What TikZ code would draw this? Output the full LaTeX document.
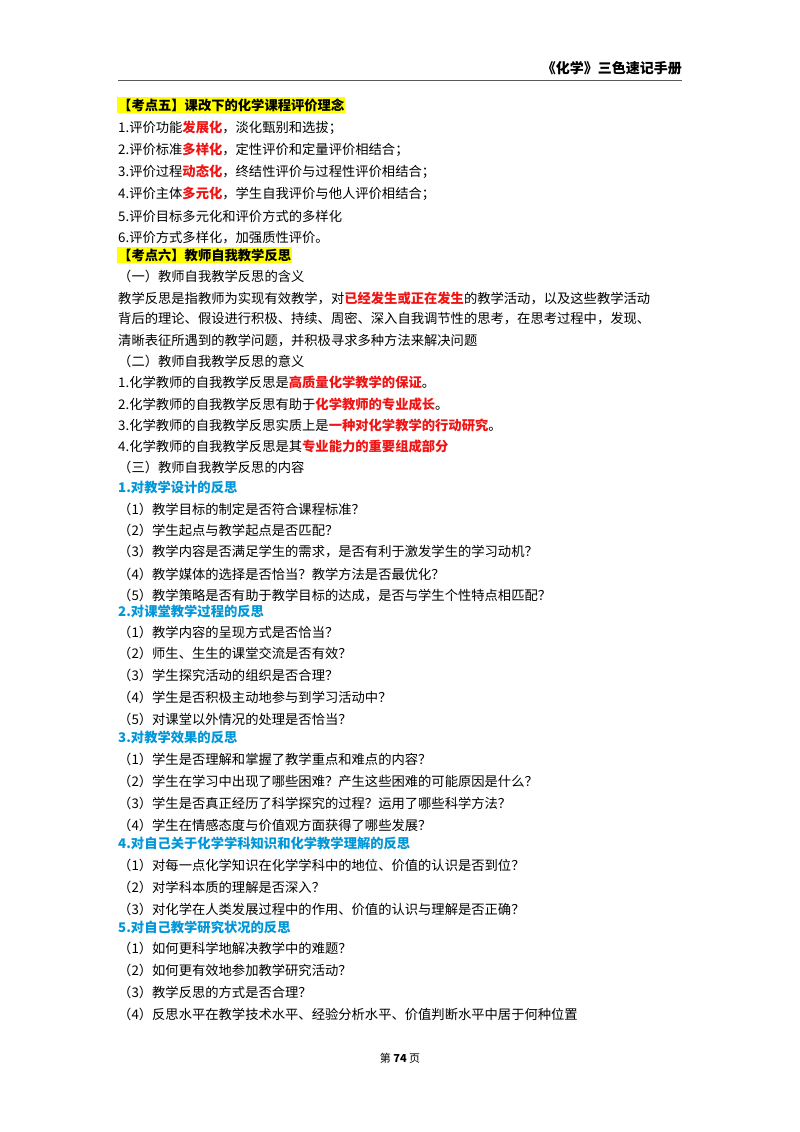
\documentclass[tikz,border=0pt]{standalone}
\usepackage{fontspec}
\setmainfont{Noto Sans CJK SC}
\usetikzlibrary{positioning}
\definecolor{hired}{RGB}{240,20,20}
\definecolor{hiblue}{RGB}{0,150,215}
\definecolor{hiyel}{RGB}{255,255,0}
\newcommand{\hl}[1]{\textcolor{hired}{\bfseries #1}}
\tikzset{
  line/.style={anchor=west,inner sep=0pt,font=\fontsize{13.3}{15}\selectfont},
  para/.style={line,text width=564pt,align=justify},
  kaodian/.style={line,fill=hiyel,inner ysep=2pt,inner xsep=1pt,font=\fontsize{13.3}{15}\selectfont\bfseries},
  sub/.style={line,text=hiblue,font=\fontsize{13.3}{15}\selectfont\bfseries},
}
\begin{document}
\begin{tikzpicture}[x=1pt,y=-1pt]
\useasboundingbox (0,0) rectangle (800,1132);
\node[anchor=east,inner sep=0pt,font=\fontsize{14}{15}\selectfont\bfseries] (head) at (682,68) {《化学》三色速记手册};
\draw[line width=0.8pt,gray!70!black] (118,80) -- (682,80);
% kaodian 5
\node[kaodian] (k5) at (117,105) {【考点五】课改下的化学课程评价理念};
\node[line] (a1) at (118,128) {1.评价功能\hl{发展化}，淡化甄别和选拔；};
\node[line] (a2) at (118,150) {2.评价标准\hl{多样化}，定性评价和定量评价相结合；};
\node[line] (a3) at (118,172) {3.评价过程\hl{动态化}，终结性评价与过程性评价相结合；};
\node[line] (a4) at (118,194) {4.评价主体\hl{多元化}，学生自我评价与他人评价相结合；};
\node[line] (a5) at (118,216) {5.评价目标多元化和评价方式的多样化};
\node[line] (a6) at (118,238) {6.评价方式多样化，加强质性评价。};
% kaodian 6
\node[kaodian] (k6) at (117,255) {【考点六】教师自我教学反思};
\node[line] (s1) at (118,276) {（一）教师自我教学反思的含义};
\node[para] (p1) at (118,298) {教学反思是指教师为实现有效教学，对\hl{已经发生或正在发生}的教学活动，以及这些教学活动\hfill\null};
\node[para] (p2) at (118,319) {背后的理论、假设进行积极、持续、周密、深入自我调节性的思考，在思考过程中，发现、\hfill\null};
\node[line] (p3) at (118,341) {清晰表征所遇到的教学问题，并积极寻求多种方法来解决问题};
\node[line] (s2) at (118,361) {（二）教师自我教学反思的意义};
\node[line] (b1) at (118,382) {1.化学教师的自我教学反思是\hl{高质量化学教学的保证}。};
\node[line] (b2) at (118,404) {2.化学教师的自我教学反思有助于\hl{化学教师的专业成长}。};
\node[line] (b3) at (118,425) {3.化学教师的自我教学反思实质上是\hl{一种对化学教学的行动研究}。};
\node[line] (b4) at (118,446) {4.化学教师的自我教学反思是其\hl{专业能力的重要组成部分}};
\node[line] (s3) at (118,467) {（三）教师自我教学反思的内容};
% content 1
\node[sub] (c1) at (118,487) {1.对教学设计的反思};
\node[line] (c11) at (118,509) {（1）教学目标的制定是否符合课程标准？};
\node[line] (c12) at (118,530) {（2）学生起点与教学起点是否匹配？};
\node[line] (c13) at (118,552) {（3）教学内容是否满足学生的需求，是否有利于激发学生的学习动机？};
\node[line] (c14) at (118,574) {（4）教学媒体的选择是否恰当？教学方法是否最优化？};
\node[line] (c15) at (118,596) {（5）教学策略是否有助于教学目标的达成，是否与学生个性特点相匹配？};
% content 2
\node[sub] (c2) at (118,611) {2.对课堂教学过程的反思};
\node[line] (c21) at (118,632) {（1）教学内容的呈现方式是否恰当？};
\node[line] (c22) at (118,653) {（2）师生、生生的课堂交流是否有效？};
\node[line] (c23) at (118,675) {（3）学生探究活动的组织是否合理？};
\node[line] (c24) at (118,697) {（4）学生是否积极主动地参与到学习活动中？};
\node[line] (c25) at (118,719) {（5）对课堂以外情况的处理是否恰当？};
% content 3
\node[sub] (c3) at (118,737) {3.对教学效果的反思};
\node[line] (c31) at (118,759) {（1）学生是否理解和掌握了教学重点和难点的内容？};
\node[line] (c32) at (118,781) {（2）学生在学习中出现了哪些困难？产生这些困难的可能原因是什么？};
\node[line] (c33) at (118,803) {（3）学生是否真正经历了科学探究的过程？运用了哪些科学方法？};
\node[line] (c34) at (118,825) {（4）学生在情感态度与价值观方面获得了哪些发展？};
% content 4
\node[sub] (c4) at (118,843) {4.对自己关于化学学科知识和化学教学理解的反思};
\node[line] (c41) at (118,865) {（1）对每一点化学知识在化学学科中的地位、价值的认识是否到位？};
\node[line] (c42) at (118,887) {（2）对学科本质的理解是否深入？};
\node[line] (c43) at (118,909) {（3）对化学在人类发展过程中的作用、价值的认识与理解是否正确？};
% content 5
\node[sub] (c5) at (118,927) {5.对自己教学研究状况的反思};
\node[line] (c51) at (118,948) {（1）如何更科学地解决教学中的难题？};
\node[line] (c52) at (118,970) {（2）如何更有效地参加教学研究活动？};
\node[line] (c53) at (118,992) {（3）教学反思的方式是否合理？};
\node[line] (c54) at (118,1014) {（4）反思水平在教学技术水平、经验分析水平、价值判断水平中居于何种位置};
\node[inner sep=0pt,font=\fontsize{11}{12}\selectfont] (page) at (400,1058) {第\ \textbf{74}\ 页};
\end{tikzpicture}
\end{document}
